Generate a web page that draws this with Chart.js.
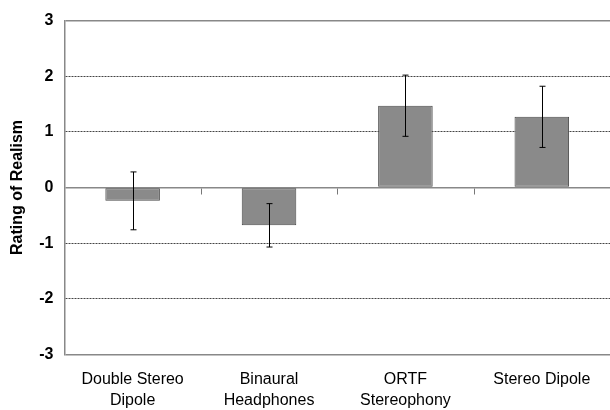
<!DOCTYPE html>
<html>
<head>
<meta charset="utf-8">
<script src="https://cdn.jsdelivr.net/npm/chart.js@4.4.0/dist/chart.umd.min.js"></script>
<style>
  html, body { margin: 0; padding: 0; background: #fff; }
  #wrap { width: 610px; height: 410px; }
</style>
</head>
<body>
<div id="wrap"><canvas id="chart" width="610" height="410"></canvas></div>
<script>
const categories = [['Double Stereo', 'Dipole'], ['Binaural', 'Headphones'], ['ORTF', 'Stereophony'], ['Stereo Dipole']];
const ratings = [-0.24, -0.68, 1.47, 1.27];
const errors = [0.52, 0.39, 0.55, 0.55];
const yTicks = [-3, -2, -1, 0, 1, 2, 3];

// error bars + category tick marks on the zero line
const errorBarPlugin = {
  id: 'errorBars',
  afterDatasetsDraw(chart) {
    const ctx = chart.ctx;
    const x = chart.scales.x;
    const y = chart.scales.y;
    ctx.save();
    ctx.strokeStyle = '#000';
    ctx.lineWidth = 1;
    ratings.forEach((v, i) => {
      const px = Math.round(x.getPixelForValue(i)) + 0.5;
      const top = y.getPixelForValue(v + errors[i]);
      const bot = y.getPixelForValue(v - errors[i]);
      ctx.beginPath();
      ctx.moveTo(px, top); ctx.lineTo(px, bot);
      ctx.moveTo(px - 3, top); ctx.lineTo(px + 3, top);
      ctx.moveTo(px - 3, bot); ctx.lineTo(px + 3, bot);
      ctx.stroke();
    });
    // small ticks between categories
    const y0 = Math.round(y.getPixelForValue(0)) + 0.5;
    ctx.strokeStyle = '#777';
    for (let i = 1; i < categories.length; i++) {
      const px = Math.round((x.getPixelForValue(i - 1) + x.getPixelForValue(i)) / 2) + 0.5;
      ctx.beginPath();
      ctx.moveTo(px, y0); ctx.lineTo(px, y0 + 6);
      ctx.stroke();
    }
    ctx.restore();
  }
};

const isDotted = c => c.tick && Math.abs(c.tick.value) !== 3 && c.tick.value !== 0;

new Chart(document.getElementById('chart'), {
  type: 'bar',
  data: {
    labels: categories,
    datasets: [{
      data: ratings,
      backgroundColor: '#8a8a8a',
      borderColor: '#4a4a4a',
      borderWidth: 1,
      borderSkipped: false,
      categoryPercentage: 0.4,
      barPercentage: 1.0
    }]
  },
  options: {
    responsive: false,
    animation: false,
    layout: { autoPadding: false, padding: { top: 14, right: 0, left: 4, bottom: -16 } },
    plugins: { legend: { display: false }, tooltip: { enabled: false } },
    scales: {
      x: {
        grid: { display: false, drawTicks: false },
        border: { display: false },
        ticks: {
          color: '#000',
          font: { family: 'Liberation Sans, Arial, sans-serif', size: 16, lineHeight: 1.3 },
          padding: 15,
          maxRotation: 0
        }
      },
      y: {
        min: -3,
        max: 3,
        afterBuildTicks(axis) { axis.ticks = yTicks.map(v => ({ value: v })); },
        title: {
          display: true,
          text: 'Rating of Realism',
          color: '#000',
          font: { family: 'Liberation Sans, Arial, sans-serif', size: 16, weight: 'bold' },
          padding: { top: 4, bottom: 1 }
        },
        ticks: {
          color: '#000',
          font: { family: 'Liberation Sans, Arial, sans-serif', size: 16, weight: 'bold' },
          padding: 11
        },
        grid: {
          drawTicks: false,
          color: c => isDotted(c) ? '#444' : '#888',
          lineWidth: c => isDotted(c) ? 1 : 1.5
        },
        border: {
          color: '#888',
          width: 1.5,
          dash: c => isDotted(c) ? [2, 1] : []
        }
      }
    }
  },
  plugins: [errorBarPlugin]
});
</script>
</body>
</html>
